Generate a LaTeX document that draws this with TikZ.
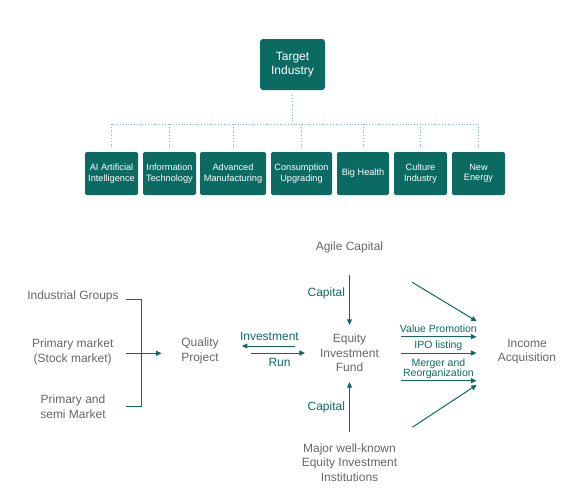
\documentclass[tikz,border=0pt]{standalone}
\usepackage{fontspec}
\setmainfont{Liberation Sans}
\usetikzlibrary{arrows.meta}
\definecolor{deepteal}{HTML}{0B6B62}
\definecolor{lightteal}{HTML}{7DBBB3}
\definecolor{txtgray}{HTML}{666666}

\begin{document}
\begin{tikzpicture}[
  x=1pt, y=-1pt,
  topbox/.style={fill=deepteal, rounded corners=3pt, text=white, align=center,
                 minimum width=65pt, minimum height=51pt, inner sep=1pt,
                 font=\fontsize{12}{14}\selectfont},
  indbox/.style={fill=deepteal, rounded corners=2pt, text=white, align=center,
                 minimum height=43pt, inner sep=1pt,
                 font=\fontsize{9.2}{10.5}\selectfont},
  plaintext/.style={text=txtgray, align=center, inner sep=0pt,
                    font=\fontsize{12}{14.5}\selectfont},
  flowlabel/.style={text=deepteal, inner sep=0pt,
                    font=\fontsize{12}{14.5}\selectfont},
  smalllabel/.style={text=deepteal, inner sep=0pt, align=center,
                     font=\fontsize{10.5}{10}\selectfont},
  link/.style={lightteal, dotted, line width=0.8pt},
  wire/.style={deepteal, line width=1pt},
  flow/.style={wire, -{Triangle[length=5.5pt, width=5pt]}}
]
  \useasboundingbox (0,0) rectangle (576,498);

  \node[topbox] (target) at (292.5,64.5) {Target\\Industry};
  \node[indbox, minimum width=53pt] (ai) at (111.5,173.5) {AI Artificial\\Intelligence};
  \node[indbox, minimum width=53pt] (infotech) at (169.5,173.5) {Information\\Technology};
  \node[indbox, minimum width=66pt] (advmanu) at (233,173.5) {Advanced\\Manufacturing};
  \node[indbox, minimum width=61pt] (consume) at (301.5,173.5) {Consumption\\Upgrading};
  \node[indbox, minimum width=52pt] (health) at (363,173.5) {Big Health};
  \node[indbox, minimum width=53pt] (culture) at (420.5,173.5) {Culture\\Industry};
  \node[indbox, minimum width=53pt] (energy) at (478.5,173.5) {New\\Energy};

  \coordinate (bus) at (292.5,124);
  \draw[link, shorten <=5pt] (target.south) -- (bus);
  \draw[link] (ai |- bus) -- (energy |- bus);
  \foreach \n in {ai,infotech,advmanu,consume,health,culture,energy}
    \draw[link, shorten >=5pt] (\n |- bus) -- (\n.north);

  \node[plaintext] (indgroups) at (73,296.7) {Industrial Groups};
  \node[plaintext] (primary) at (72.7,352) {Primary market\\(Stock market)};
  \node[plaintext] (semi) at (73,406.5) {Primary and\\semi Market};
  \node[plaintext] (quality) at (200,351) {Quality\\Project};
  \node[plaintext] (agile) at (349.5,247) {Agile Capital};
  \node[plaintext] (fund) at (349.5,353) {Equity\\Investment\\Fund};
  \node[plaintext] (major) at (349.5,462.3) {Major well-known\\Equity Investment\\Institutions};
  \node[plaintext] (income) at (527,351.7) {Income\\Acquisition};

  \coordinate (bin) at (126,353.3);
  \coordinate (brk) at (141,353.3);
  \coordinate (upper) at (412.3,282.3);
  \coordinate (lower) at (412.3,427.3);

  \draw[wire] (bin |- indgroups.base) -| (brk |- semi) -- (bin |- semi);
  \draw[flow, shorten >=19.5pt] (bin) -- (bin -| quality.west);

  \draw[flow, shorten <=25pt, shorten >=23pt] ([yshift=7pt]fund.west) -- ([yshift=7pt]fund.west -| quality.east)
    node[midway, above=5pt, flowlabel] {Investment};
  \draw[flow, shorten <=32pt, shorten >=15pt] (quality.east |- fund.west) -- (fund.west)
    node[pos=0.6, below=5pt, flowlabel] {Run};

  \draw[flow, shorten <=22pt, shorten >=9pt] (agile) -- (fund)
    node[midway, left=4pt, flowlabel] {Capital};
  \draw[flow, shorten <=11.5pt, shorten >=10pt] (major) -- (fund)
    node[midway, left=4pt, flowlabel] {Capital};

  \draw[flow, shorten <=22pt, shorten >=21.3pt] ([yshift=16.3pt]fund.east) -- ([yshift=16.3pt]fund.east -| income.west)
    node[midway, above=4pt, smalllabel] {Value Promotion};
  \draw[flow, shorten <=22pt, shorten >=21.3pt] (fund.east) -- (fund.east -| income.west)
    node[midway, above=2pt, smalllabel] {IPO listing};
  \draw[flow, shorten <=22pt, shorten >=21.3pt] ([yshift=-27.7pt]fund.east) -- ([yshift=-27.7pt]fund.east -| income.west)
    node[midway, above=2pt, smalllabel] {Merger and\\Reorganization};

  \draw[flow, shorten >=34pt] (upper) -- (income);
  \draw[flow, shorten >=37pt] (lower) -- (income);
\end{tikzpicture}
\end{document}
